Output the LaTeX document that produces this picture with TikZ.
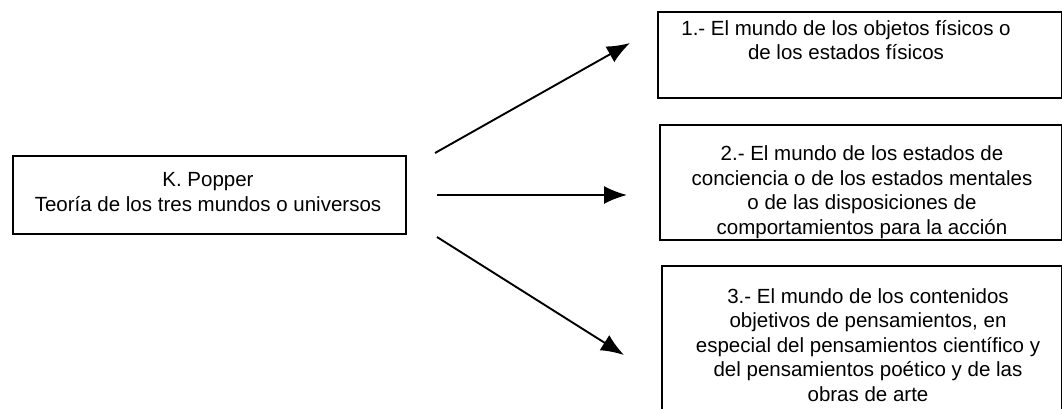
\documentclass[tikz,border=0pt]{standalone}
\usepackage{fontspec}
\setmainfont{Liberation Sans}
\usetikzlibrary{arrows.meta}
\begin{document}
\begin{tikzpicture}[x=1pt,y=-1pt,
  frame/.style={draw=black, line width=1.6pt, inner sep=0pt, anchor=north west},
  label/.style={align=center, inner sep=0pt, font=\fontsize{20.5}{24.5}\selectfont},
  arrow/.style={line width=1.9pt, -{Latex[length=23pt,width=18pt]}}]
  \useasboundingbox[fill=white] (0,0) rectangle (1062,408);

  % source box
  \node[frame, minimum width=393pt, minimum height=78pt] (src) at (12,155) {};
  \node[label] (srct) at (208,192) {K. Popper\\Teoría de los tres mundos o universos};

  % the three worlds
  \node[frame, minimum width=404pt, minimum height=86pt] (w1) at (657,11) {};
  \node[label] (w1t) at (846,40) {1.- El mundo de los objetos físicos o\\de los estados físicos};

  \node[frame, minimum width=402pt, minimum height=115pt] (w2) at (659,124) {};
  \node[label] (w2t) at (862,192) {2.- El mundo de los estados de\\conciencia o de los estados mentales\\o de las disposiciones de\\comportamientos para la acción};

  \node[frame, minimum width=400pt, minimum height=160pt] (w3) at (661,265) {};
  \node[label] (w3t) at (868,345) {3.- El mundo de los contenidos\\objetivos de pensamientos, en\\especial del pensamientos científico y\\del pensamientos poético y de las\\obras de arte};

  % arrow ends
  \coordinate (s1) at (435,153);
  \coordinate (e1) at (630,43);
  \coordinate (s2) at (437,195);
  \coordinate (e2) at (627,195);
  \coordinate (s3) at (437,237);
  \coordinate (e3) at (624,355);

  \draw[arrow] (s1) -- (e1);
  \draw[arrow] (s2) -- (e2);
  \draw[arrow] (s3) -- (e3);
\end{tikzpicture}
\end{document}
